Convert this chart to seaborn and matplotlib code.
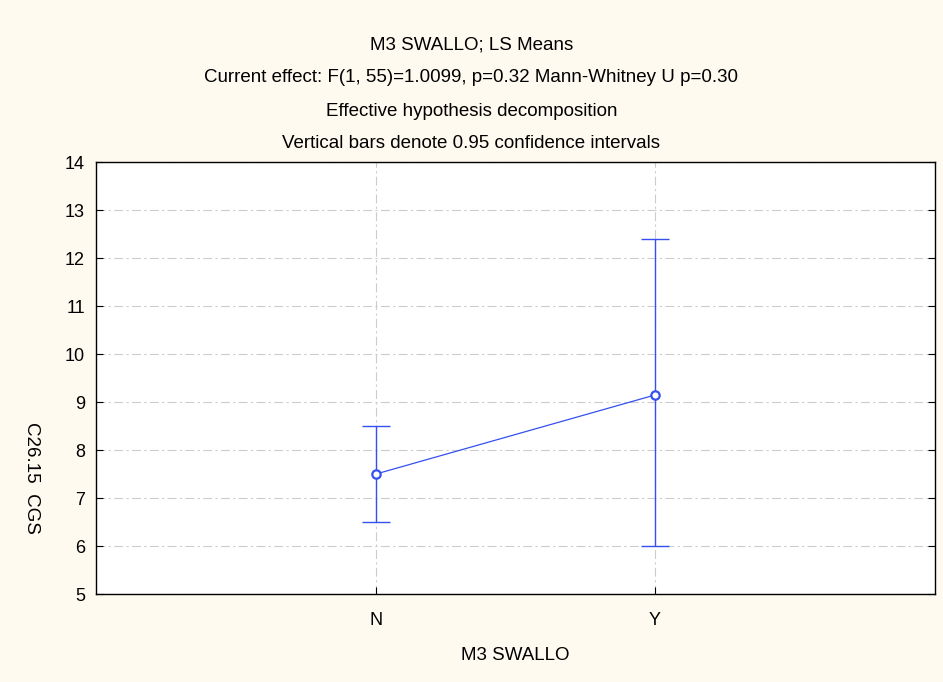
import matplotlib
matplotlib.use("Agg")
import matplotlib.pyplot as plt
import pandas as pd
import seaborn as sns

# LS means with 0.95 confidence intervals
groups = ["N", "Y"]
means = [7.5, 9.15]
ci_low = [6.5, 6.0]
ci_high = [8.5, 12.4]

title_lines = [
    "M3 SWALLO; LS Means",
    "Current effect: F(1, 55)=1.0099, p=0.32 Mann-Whitney U p=0.30",
    "Effective hypothesis decomposition",
    "Vertical bars denote 0.95 confidence intervals",
]

df = pd.DataFrame({"group": groups, "mean": means, "low": ci_low, "high": ci_high})

sns.set_style("ticks")
plt.rcParams["font.family"] = ["Liberation Sans", "DejaVu Sans"]
plt.rcParams["text.color"] = "black"
plt.rcParams["axes.labelcolor"] = "black"
plt.rcParams["xtick.color"] = "black"
plt.rcParams["ytick.color"] = "black"

blue = "#3550ef"
fig = plt.figure(figsize=(9.43, 6.82), dpi=100, facecolor="#fffaf0")
ax = fig.add_axes([0.102, 0.129, 0.889, 0.633])
ax.set_facecolor("white")

# Mean line + markers
sns.pointplot(data=df, x="group", y="mean", order=groups, color=blue,
              errorbar=None, markers="o", linestyles="-", ax=ax)
for ln in ax.lines:
    ln.set_linewidth(0.9)
    ln.set_markersize(6)
    ln.set_markerfacecolor("white")
    ln.set_markeredgecolor(blue)
    ln.set_markeredgewidth(1.6)
    ln.set_zorder(5)

# Confidence intervals
yerr = [df["mean"] - df["low"], df["high"] - df["mean"]]
ax.errorbar(range(len(groups)), df["mean"], yerr=yerr, fmt="none",
            ecolor=blue, elinewidth=1.0, capsize=10, capthick=1.0, zorder=4)

ax.set_xlim(-1, 2)
ax.set_ylim(5, 14)
ax.set_yticks(range(5, 15))
ax.grid(True, color="#cccccc", linestyle=(0, (8, 3, 2, 3)), linewidth=0.8)
ax.set_axisbelow(True)
ax.tick_params(direction="in", length=5, right=True, labelsize=13)
ax.tick_params(axis="y", pad=8)
ax.tick_params(axis="x", pad=13)
for s in ax.spines.values():
    s.set_visible(True)
    s.set_color("black")
    s.set_linewidth(1.0)

ax.set_xlabel("M3 SWALLO", fontsize=13.5, labelpad=13)
ax.set_ylabel("C26.15  CGS", fontsize=13.5, rotation=270, labelpad=10)
ax.yaxis.set_label_coords(-0.087, 0.27)

ys = [0.934, 0.886, 0.837, 0.789]
for t, y in zip(title_lines, ys):
    fig.text(0.5, y, t, ha="center", va="center", fontsize=13.5)

fig.savefig("out.png", dpi=100, facecolor=fig.get_facecolor())
